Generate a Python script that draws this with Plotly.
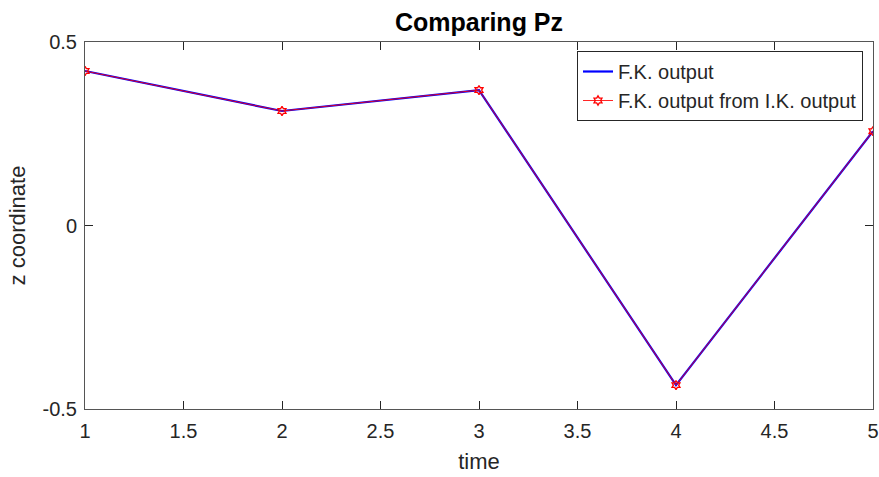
import plotly.graph_objects as go

time = [1, 2, 3, 4, 5]
fk_output = [0.421, 0.312, 0.369, -0.435, 0.257]
fk_from_ik = [0.421, 0.312, 0.369, -0.435, 0.257]

FONT = "Liberation Sans, Arial, Helvetica"

fig = go.Figure()
fig.add_trace(go.Scatter(x=time, y=fk_output, mode="lines", name="F.K. output",
                         line=dict(color="#0000ff", width=2.2)))
fig.add_trace(go.Scatter(x=time, y=fk_from_ik, mode="lines+markers",
                         name="F.K. output from I.K. output",
                         line=dict(color="rgba(255,0,0,0.85)", width=1),
                         marker=dict(symbol="hexagram-open", size=7, color="#ff0000",
                                     line=dict(color="#ff0000", width=1.3))))

axis_common = dict(showline=True, linecolor="#555555", linewidth=1, mirror="ticks",
                   ticks="inside", ticklen=8, tickcolor="#262626", showgrid=False,
                   zeroline=False, tickfont=dict(family=FONT, size=20, color="#262626"))

fig.update_layout(
    width=879, height=477,
    paper_bgcolor="white", plot_bgcolor="white",
    margin=dict(l=85, r=6, t=42, b=68, autoexpand=False),
    title=dict(text="<b>Comparing Pz</b>", x=0.5, xanchor="center", xref="paper",
               y=1 - 22/477, yanchor="middle",
               font=dict(family=FONT, size=25, color="black")),
    xaxis=dict(range=[1, 5], tickvals=[1, 1.5, 2, 2.5, 3, 3.5, 4, 4.5, 5],
               ticktext=["1", "1.5", "2", "2.5", "3", "3.5", "4", "4.5", "5"],
               ticklabelstandoff=4,
               title=dict(text="time", font=dict(family=FONT, size=22, color="#262626"), standoff=12),
               automargin=False, **axis_common),
    yaxis=dict(range=[-0.5, 0.5], tickvals=[-0.5, 0, 0.5], ticktext=["-0.5", "0", "0.5"],
               ticklabelstandoff=3,
               title=dict(text="z coordinate", font=dict(family=FONT, size=22, color="#262626"), standoff=10),
               automargin=False, **axis_common),
    legend=dict(x=1 - 10/788, xanchor="right", y=1 - 9/367, yanchor="top",
                bgcolor="white", bordercolor="#262626", borderwidth=1,
                font=dict(family=FONT, size=20, color="#262626"),
                tracegroupgap=0, itemwidth=30),
    showlegend=True,
)

fig.write_html("out.html", config={"displayModeBar": False},
               post_script="document.body.style.margin='0';document.body.style.padding='0';")
